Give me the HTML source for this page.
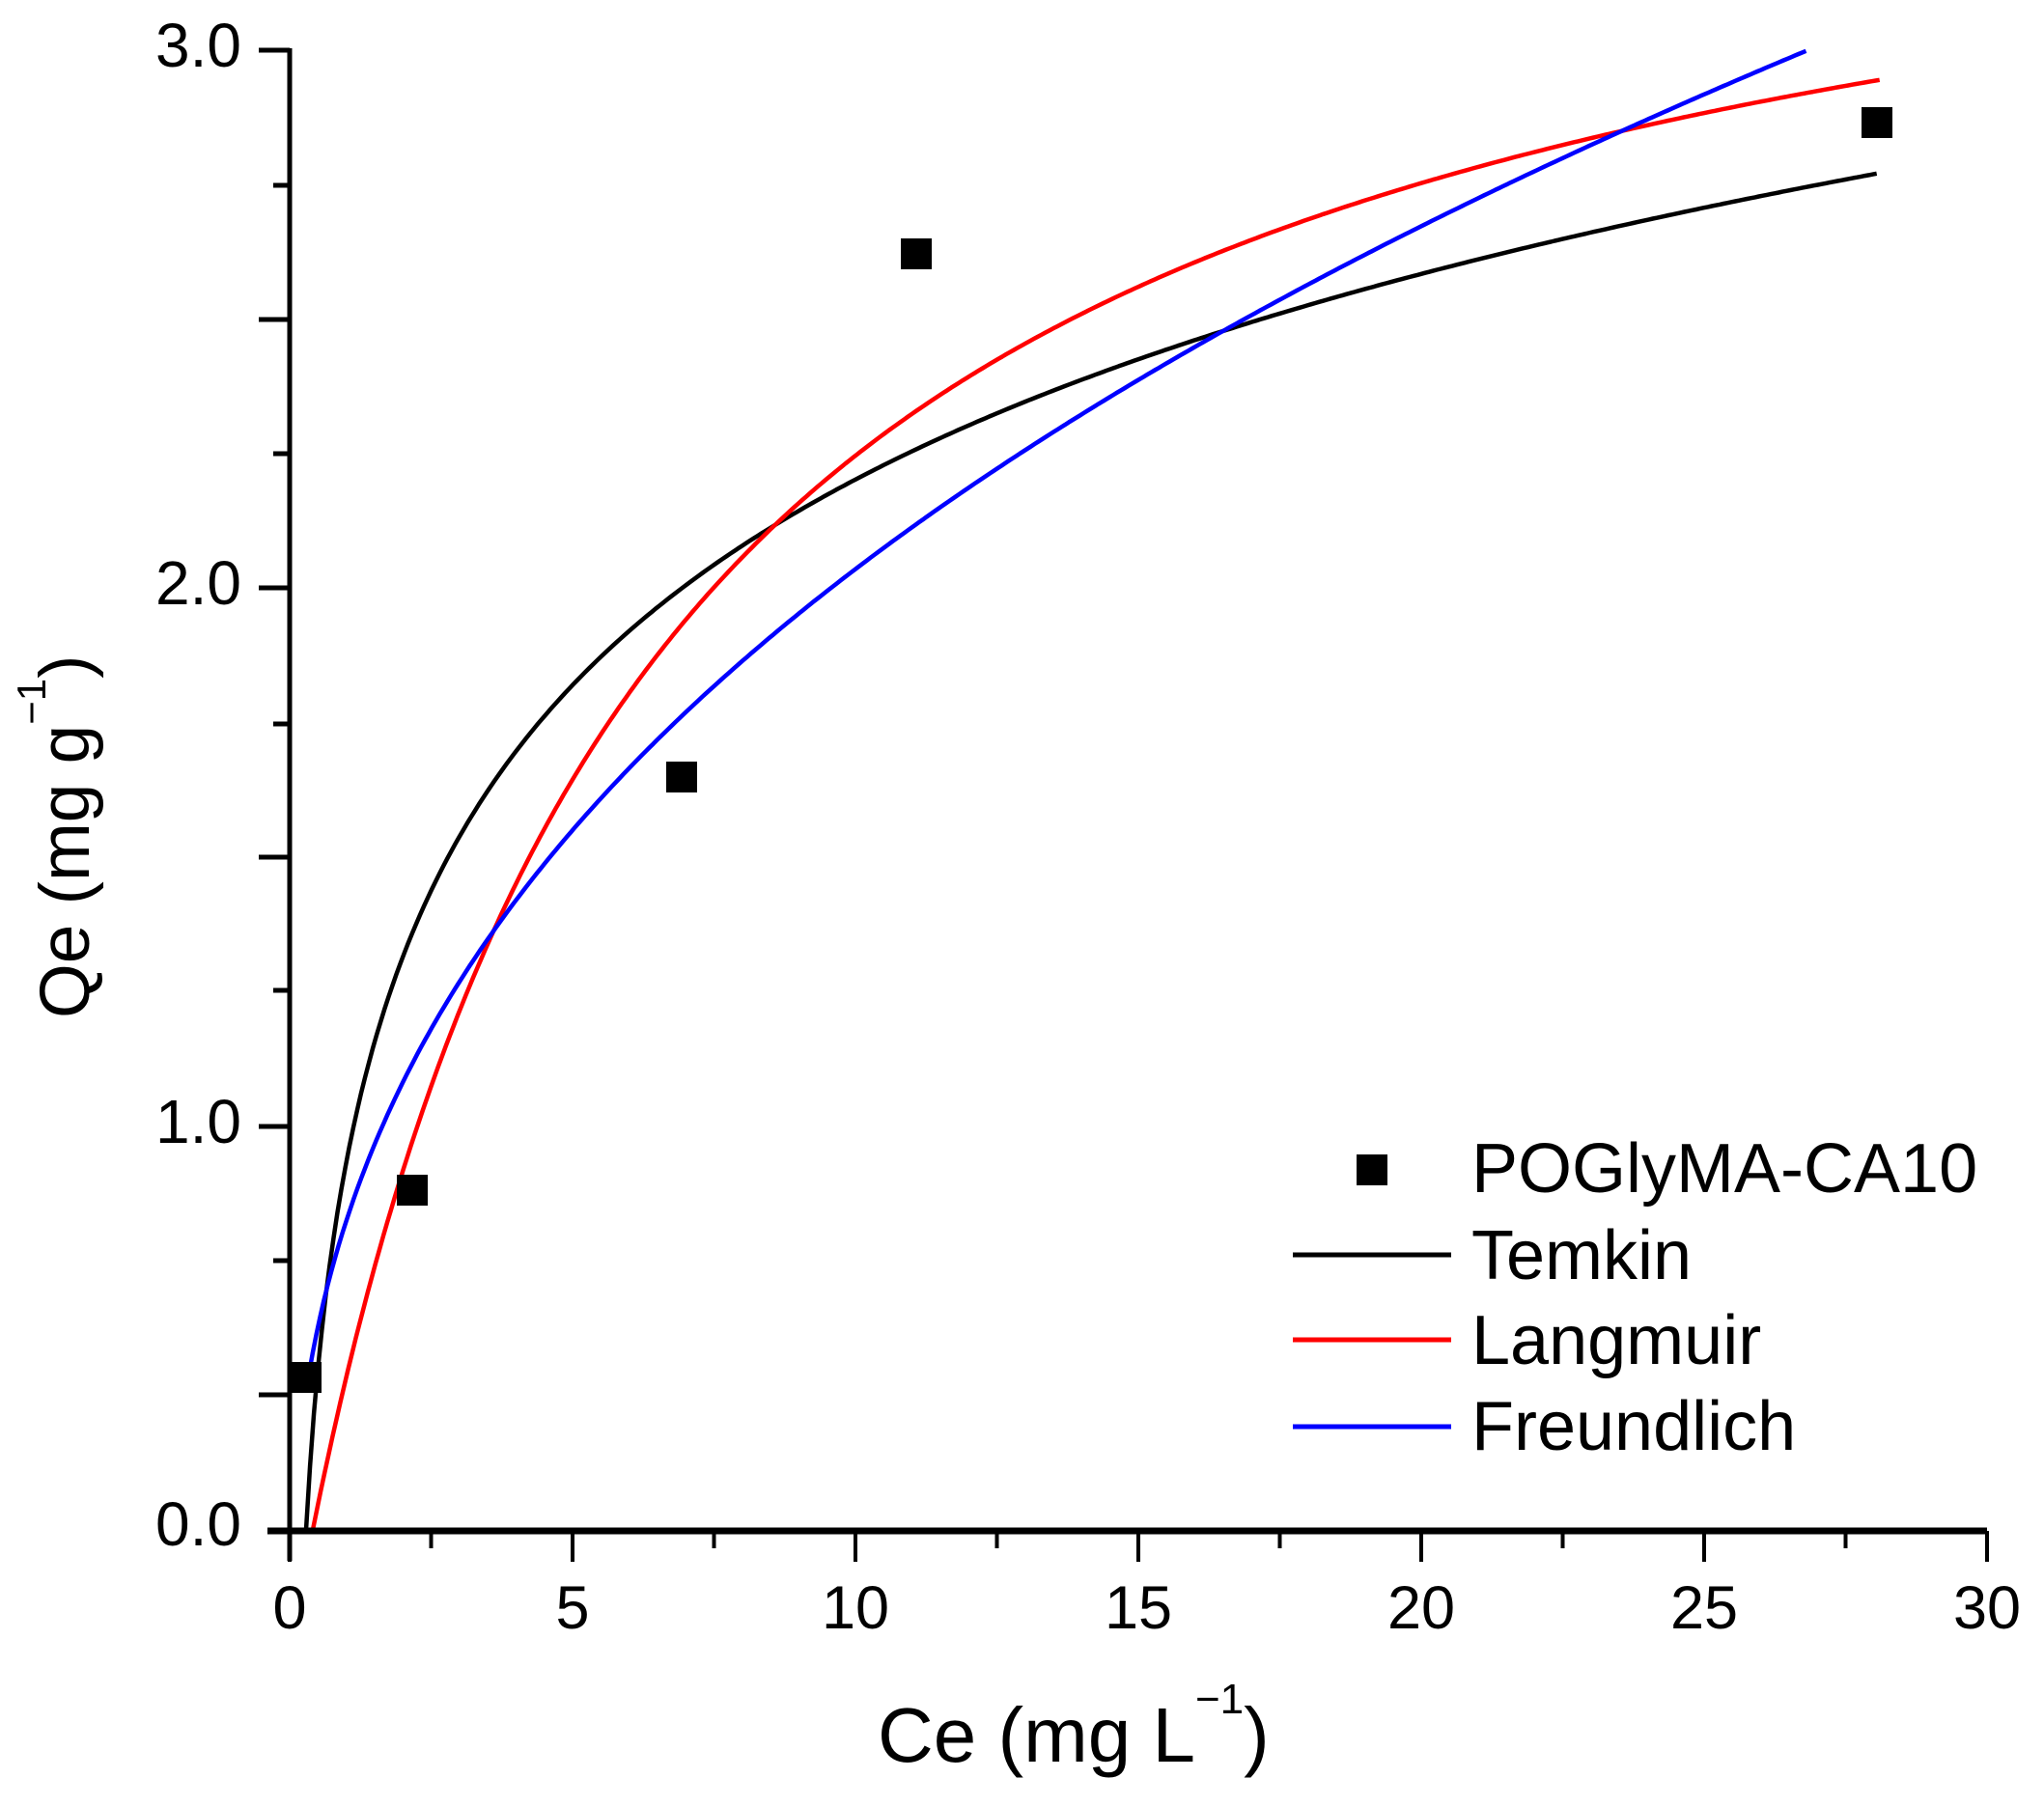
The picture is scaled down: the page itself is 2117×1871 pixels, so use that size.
<!DOCTYPE html>
<html><head><meta charset="utf-8"><style>
html,body{margin:0;padding:0;background:#fff}
svg{display:block}
text{font-family:"Liberation Sans",Arial,sans-serif;fill:#000}
</style></head><body>
<svg id="s" width="2117" height="1871" viewBox="0 0 2117 1871" xmlns="http://www.w3.org/2000/svg">
<g id="curves" fill="none" stroke-width="4.5" stroke-linejoin="round"></g>
<g id="axes" stroke="#000" fill="none"></g>
<g id="marks" fill="#000"></g>
<g font-size="64">
<text x="250" y="69" text-anchor="end">3.0</text>
<text x="250" y="626" text-anchor="end">2.0</text>
<text x="250" y="1184" text-anchor="end">1.0</text>
<text x="250" y="1601" text-anchor="end">0.0</text>
</g>
<g font-size="63" text-anchor="middle">
<text x="300" y="1687">0</text>
<text x="593" y="1687">5</text>
<text x="886" y="1687">10</text>
<text x="1179" y="1687">15</text>
<text x="1472" y="1687">20</text>
<text x="1765" y="1687">25</text>
<text x="2058" y="1687">30</text>
</g>
<text x="909" y="1825" font-size="80">Ce (mg L<tspan font-size="44" dy="-50">−1</tspan><tspan dy="50">)</tspan></text>
<text transform="translate(92,1055) rotate(-90)" font-size="73">Qe (mg g<tspan font-size="42" dy="-45">−1</tspan><tspan dy="45">)</tspan></text>
<g font-size="72">
<rect x="1405" y="1196" width="32" height="32" fill="#000"/>
<text x="1524" y="1235">POGlyMA-CA10</text>
<line x1="1339" y1="1300" x2="1503" y2="1300" stroke="#000" stroke-width="5"/>
<text x="1524" y="1325">Temkin</text>
<line x1="1339" y1="1388" x2="1503" y2="1388" stroke="#f00" stroke-width="5"/>
<text x="1524" y="1413">Langmuir</text>
<line x1="1339" y1="1478" x2="1503" y2="1478" stroke="#00f" stroke-width="5"/>
<text x="1524" y="1502">Freundlich</text>
</g>
</svg>
<script>
(function(){
var NS="http://www.w3.org/2000/svg";
function X(x){return 300+x*58.6;}
function Y(v){return 1167-(v-1)*557;}
function el(p,t,a){var e=document.createElementNS(NS,t);for(var k in a)e.setAttribute(k,a[k]);p.appendChild(e);return e;}
var ax=document.getElementById('axes');
el(ax,'line',{x1:300,y1:50,x2:300,y2:1617,'stroke-width':5});
el(ax,'line',{x1:277,y1:1586,x2:2058,y2:1586,'stroke-width':7});
var yt=[[52,1],[192,0],[331,1],[470,0],[609,1],[750,0],[888,1],[1026,0],[1167,1],[1306,0],[1445,1]];
yt.forEach(function(t){el(ax,'line',{x1:t[1]?268:283,y1:t[0],x2:300,y2:t[0],'stroke-width':5});});
for(var i=0;i<=12;i++){var x=X(i*2.5),maj=i%2==0;el(ax,'line',{x1:x,y1:1586,x2:x,y2:maj?1618:1604,'stroke-width':4});}
var cv=document.getElementById('curves');
function path(f,x0,x1,col){var d='';for(var i=0;i<=400;i++){var x=x0+(x1-x0)*i/400;var v=f(x);var py=Y(v);if(py<51)py=51;d+=(i?'L':'M')+X(x).toFixed(1)+' '+py.toFixed(1);}el(cv,'path',{d:d,stroke:col});}
path(function(x){return 0.25+0.5517*Math.log(x/0.29);},0.29,28.05,'#000');
path(function(x){var r=x-0.41;return 0.25+3.31*r/(6.3+r);},0.41,28.1,'#f00');
path(function(x){return 0.824*Math.pow(x,0.393);},0.34,26.8,'#00f');
var mk=document.getElementById('marks');
[[317,1427],[427,1233],[706,805],[949,263],[1944,127]].forEach(function(p){el(mk,'rect',{x:p[0]-16,y:p[1]-16,width:32,height:32});});
})();
</script>
</body></html>
